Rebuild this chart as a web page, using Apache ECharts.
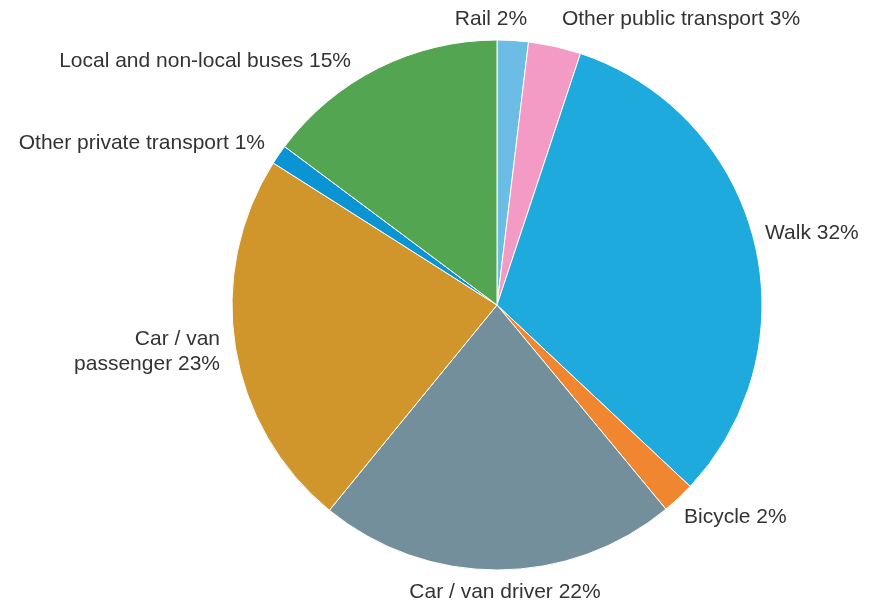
<!DOCTYPE html>
<html>
<head>
<meta charset="utf-8">
<script src="https://cdn.jsdelivr.net/npm/echarts@6/dist/echarts.min.js"></script>
<style>
  html, body { margin: 0; padding: 0; background: #fff; }
  #chart { width: 873px; height: 606px; }
</style>
</head>
<body>
<div id="chart"></div>
<script>
// slices, clockwise from 12 o'clock
const modes = ['Rail', 'Other public transport', 'Walk', 'Bicycle', 'Car / van driver',
    'Car / van\npassenger', 'Other private transport', 'Local and non-local buses'];
const shares = [1.9, 3.2, 31.9, 2.0, 21.9, 23.1, 1.2, 14.8];
const colors = ['#6bbde6', '#f39bc4', '#1eaadd', '#f0862f', '#738f9c', '#d0962c', '#0b94d3', '#54a551'];

// where each label sits (text anchor)
const labelPos = [
    { x: 491, y: 19, align: 'center' },
    { x: 681, y: 19, align: 'center' },
    { x: 765, y: 233, align: 'left' },
    { x: 684, y: 517, align: 'left' },
    { x: 505, y: 592, align: 'center' },
    { x: 220, y: 352, align: 'right' },
    { x: 265, y: 143, align: 'right' },
    { x: 351, y: 61, align: 'right' }
];

const chart = echarts.init(document.getElementById('chart'));
chart.setOption({
    animation: false,
    series: [{
        type: 'pie',
        center: [497, 305],
        radius: 265,
        startAngle: 90,
        clockwise: true,
        percentPrecision: 0,
        itemStyle: { borderColor: '#fff', borderWidth: 1 },
        label: {
            show: true,
            position: 'outside',
            formatter: '{b} {d}%',
            color: '#333333',
            fontFamily: 'Liberation Sans, Arial, sans-serif',
            fontSize: 21,
            lineHeight: 25,
            overflow: 'none',
            width: 400
        },
        labelLine: { show: false },
        labelLayout: (params) => {
            const p = labelPos[params.dataIndex];
            return { x: p.x, y: p.y, align: p.align, verticalAlign: 'middle' };
        },
        emphasis: { disabled: true },
        data: modes.map((m, i) => ({ name: m, value: shares[i], itemStyle: { color: colors[i] } }))
    }]
});
</script>
</body>
</html>
